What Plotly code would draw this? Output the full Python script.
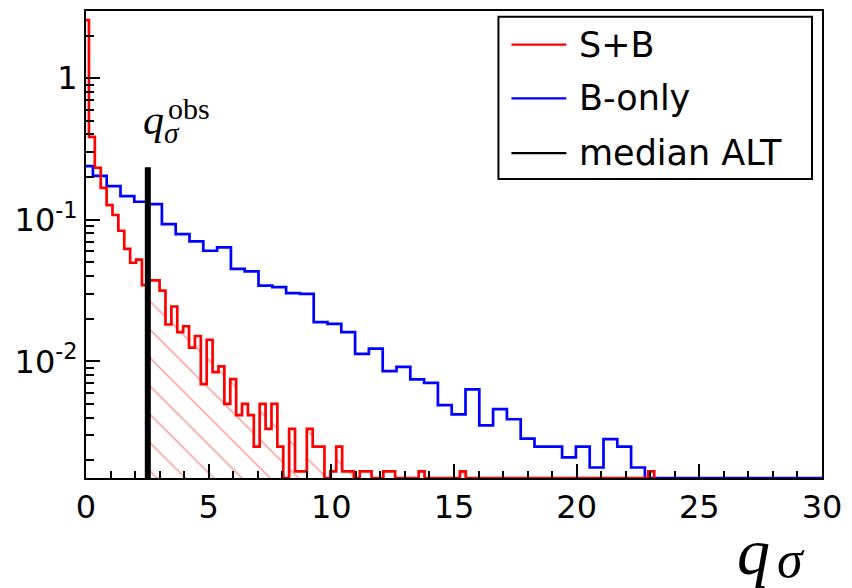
import numpy as np
import plotly.graph_objects as go

# ---------------- data ----------------
red_bin_width = 0.24      # S+B histogram, bins centred on multiples of the width
red_values = [
    2.57, 0.385, 0.233, 0.168, 0.127, 0.108, 0.0836, 0.0622, 0.0497, 0.0522,
    0.0345, 0.0373, 0.0373, 0.0316, 0.0182, 0.0244, 0.0161, 0.0177, 0.0125, 0.0151,
    0.0069, 0.0142, 0.0084, 0.0092, 0.0050, 0.0075, 0.00417, 0.0050, 0.00417, 0.0025,
    0.0050, 0.00333, 0.0050, 0.0025, 0.0, 0.00333, 0.00167, 0.00167, 0.00333, 0.0025,
    0.0025, 0.0, 0.00167, 0.0025, 0.00167, 0.00167, 0.0, 0.00167, 0.00167, 0.0,
    0.0, 0.00167, 0.00167, 0.0, 0.0, 0.0, 0.0, 0.00167, 0.0, 0.0,
    0.0, 0.0, 0.0, 0.0, 0.00167, 0.0, 0.0, 0.0, 0.0, 0.0,
    0.0, 0.0, 0.0, 0.0, 0.0, 0.0, 0.0, 0.0, 0.0, 0.0,
    0.0, 0.0, 0.0, 0.0, 0.0, 0.0, 0.0, 0.0, 0.0, 0.0,
    0.0, 0.0, 0.0, 0.0, 0.0, 0.0, 0.00167,
]

blue_bin_width = 0.5625   # B-only histogram
blue_values = [
    0.239, 0.204, 0.173, 0.147, 0.134, 0.129, 0.0931, 0.0792, 0.0703, 0.0604,
    0.0638, 0.0450, 0.0432, 0.0343, 0.0334, 0.0303, 0.0300, 0.0189, 0.0184, 0.0161,
    0.0113, 0.0123, 0.00852, 0.00914, 0.00745, 0.00705, 0.00491, 0.00422, 0.00633, 0.00353,
    0.00460, 0.00390, 0.00285, 0.00250, 0.00250, 0.00210, 0.00250, 0.00178, 0.00282, 0.00250,
    0.00178, 0.0, 0.0, 0.0, 0.0, 0.0, 0.0, 0.0, 0.0, 0.0,
    0.0, 0.0, 0.0, 0.0,
]

q_obs = 2.52          # position of the "median ALT" line
q_obs_height = 0.235  # top of the black line

series_names = ["S+B", "B-only", "median ALT"]
series_colors = ["#ff0000", "#0000ff", "black"]
x_tick_values = [0, 5, 10, 15, 20, 25, 30]
y_tick_values = [0.01, 0.1, 1]
y_tick_labels = ["10<sup>-2</sup>", "10<sup>-1</sup>", "1"]

# ---------------- figure ----------------
W, H = 852, 588
L, R, T, B = 86, 823, 9.3, 478
Y_MIN, Y_MAX = 0.0015, 2.98
X_MIN, X_MAX = 0, 30


def step_xy(values, width):
    vals = np.maximum(np.asarray(values, float), Y_MIN)
    n = len(vals)
    edges = (np.arange(n + 1) - 0.5) * width
    xs = np.concatenate([[edges[0]], edges, [edges[-1]]])
    ys = np.concatenate([[Y_MIN], vals, [vals[-1]], [Y_MIN]])
    return xs, ys, edges, vals


fig = go.Figure()

# hatched tail of S+B beyond q_obs
rx, ry, redges, rvals = step_xy(red_values, red_bin_width)
hx, hy = [q_obs], [Y_MIN * 0.5]
for i in range(len(rvals)):
    lo, hi = redges[i], redges[i + 1]
    if hi <= q_obs:
        continue
    lo = max(lo, q_obs)
    hx += [lo, hi]
    hy += [rvals[i], rvals[i]]
hx += [redges[-1]]
hy += [Y_MIN * 0.5]
fig.add_trace(go.Scatter(
    x=hx, y=hy, mode="lines", line=dict(width=0, color="rgba(0,0,0,0)"),
    fill="toself", fillcolor="rgba(0,0,0,0)",
    fillpattern=dict(shape="\\", fgcolor="rgb(240,85,85)", bgcolor="rgba(0,0,0,0)",
                     size=20, solidity=0.09),
    showlegend=False, hoverinfo="skip"))

bx, by, _, _ = step_xy(blue_values, blue_bin_width)
fig.add_trace(go.Scatter(x=bx, y=by, mode="lines", name=series_names[1],
                         line=dict(color=series_colors[1], width=2.7, shape="hv"), showlegend=False))
fig.add_trace(go.Scatter(x=rx, y=ry, mode="lines", name=series_names[0],
                         line=dict(color=series_colors[0], width=2.7, shape="hv"), showlegend=False))
fig.add_trace(go.Scatter(x=[q_obs, q_obs], y=[Y_MIN, q_obs_height], mode="lines", name=series_names[2],
                         line=dict(color=series_colors[2], width=6), showlegend=False))

minor_y = [k * 10.0 ** e for e in range(-3, 1) for k in range(2, 10) if Y_MIN <= k * 10.0 ** e <= Y_MAX]

axis_common = dict(showline=True, linecolor="black", linewidth=2, mirror=True,
                   showgrid=False, zeroline=False, ticks="inside", tickcolor="black", tickwidth=2,
                   tickfont=dict(family="DejaVu Sans", size=32, color="black"))

fig.update_xaxes(range=[X_MIN, X_MAX], tickvals=x_tick_values, ticklen=14,
                 minor=dict(ticks="inside", ticklen=7, tickcolor="black", tickwidth=2, dtick=1, tick0=0),
                 **axis_common)
fig.update_yaxes(type="log", range=[np.log10(Y_MIN), np.log10(Y_MAX)], tickvals=y_tick_values,
                 ticktext=y_tick_labels, ticklen=14,
                 minor=dict(ticks="inside", ticklen=8, tickcolor="black", tickwidth=2, tickvals=minor_y),
                 **axis_common)


def paper(xp, yp):
    return (xp - L) / (R - L), (B - yp) / (B - T)


annots = []
shapes = []

# text labels (q_sigma^obs and the axis label q_sigma)
for txt, xp, yp, size, xanchor, yanchor in [
    ("<i>q</i><sub><i>σ</i></sub>", 141, 122, 42, "left", "middle"),
    ("obs", 166, 107, 30, "left", "middle"),
    ("<i>q</i>", 754, 590, 66, "center", "bottom"),
    ("<i>σ</i>", 792, 590, 52, "center", "bottom"),
]:
    ax_, ay_ = paper(xp, yp)
    annots.append(dict(text=txt, x=ax_, y=ay_, xref="paper", yref="paper", showarrow=False,
                       xanchor=xanchor, yanchor=yanchor,
                       font=dict(family="Liberation Serif", size=size, color="black")))

# legend box
x0, y0 = paper(499, 15)
x1, y1 = paper(813, 178)
shapes.append(dict(type="rect", xref="paper", yref="paper", x0=x0, y0=y0, x1=x1, y1=y1,
                   line=dict(color="black", width=2), fillcolor="white", layer="above"))
for name, col, row_y in zip(series_names, series_colors, [43, 97, 152]):
    lx0, ly = paper(512, row_y)
    lx1, _ = paper(567, row_y)
    shapes.append(dict(type="line", xref="paper", yref="paper", x0=lx0, x1=lx1, y0=ly, y1=ly,
                       line=dict(color=col, width=2.2), layer="above"))
    tx, _ = paper(578, row_y)
    annots.append(dict(text=name, x=tx, y=ly, xref="paper", yref="paper", showarrow=False,
                       xanchor="left", yanchor="middle",
                       font=dict(family="DejaVu Sans", size=35, color="black")))

fig.update_layout(
    width=W, height=H,
    margin=dict(l=L, r=W - R, t=T, b=H - B),
    paper_bgcolor="white", plot_bgcolor="white",
    showlegend=False,
    annotations=annots,
    shapes=shapes,
)

fig.write_html("out.html")
